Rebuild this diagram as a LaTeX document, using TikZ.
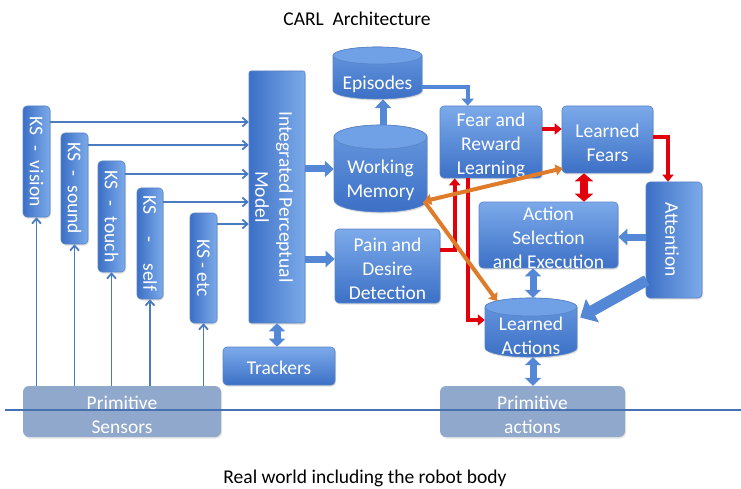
\documentclass[tikz,border=0pt]{standalone}
\usepackage{fontspec}
\setmainfont{Carlito}
\usetikzlibrary{arrows.meta,shadows,calc}
\definecolor{boxtop}{RGB}{124,170,234}
\definecolor{boxbot}{RGB}{60,112,198}
\definecolor{boxline}{RGB}{90,132,198}
\definecolor{fatblue}{RGB}{84,136,214}
\definecolor{thinblue}{RGB}{74,122,192}
\definecolor{carlred}{RGB}{226,0,10}
\definecolor{carlorange}{RGB}{222,124,44}
\definecolor{primfill}{RGB}{143,168,204}
\definecolor{cylend}{RGB}{112,160,230}
\definecolor{worldline}{RGB}{70,114,180}
\newcommand\drawcyl[6]{%
  \path[cbody] (#1,{#3+#6}) -- (#1,{#4-#6})
     arc[start angle=180,end angle=360,x radius=#5pt,y radius=#6pt]
     -- (#2,{#3+#6})
     arc[start angle=0,end angle=180,x radius=#5pt,y radius=#6pt] -- cycle;
  \path[ctop] ({(#1+#2)/2},{#3+#6}) ellipse[x radius=#5pt,y radius=#6pt];
}
\begin{document}
\begin{tikzpicture}[x=1pt,y=-1pt,
  cbox/.style={rounded corners=4pt, draw=boxline, line width=0.6pt,
     top color=boxtop, bottom color=boxbot, inner sep=0pt,
     drop shadow={opacity=0.25,shadow xshift=1pt,shadow yshift=-1.5pt}},
  vbox/.style={cbox, left color=boxbot, right color=boxtop},
  cbody/.style={draw=boxline, line width=0.6pt, top color=boxtop!70!boxbot, bottom color=boxbot,
     drop shadow={opacity=0.25,shadow xshift=1pt,shadow yshift=-1.5pt}},
  ctop/.style={draw=boxline, line width=0.6pt, fill=cylend},
  pbox/.style={rounded corners=6pt, fill=primfill, inner sep=0pt,
     drop shadow={opacity=0.2,shadow xshift=1pt,shadow yshift=-1.5pt}},
  txt/.style={text=white, align=center, inner sep=0pt, font=\fontsize{19.5}{24}\selectfont},
  blk/.style={text=black, align=center, inner sep=0pt, font=\fontsize{19.5}{24}\selectfont},
  kslink/.style={draw=thinblue, line width=1.8pt, -{Straight Barb[length=5pt,width=9pt]}},
  fatarr/.style={draw=fatblue, line width=7pt, -{Triangle[length=9pt,width=16pt]}},
  fatboth/.style={draw=fatblue, line width=7pt, {Triangle[length=8pt,width=16pt]}-{Triangle[length=8pt,width=16pt]}},
  redarr/.style={draw=carlred, line width=4pt, -{Triangle[length=7pt,width=11pt]}},
  redboth/.style={draw=carlred, line width=8pt, {Triangle[length=8pt,width=18pt]}-{Triangle[length=8pt,width=18pt]}},
  orarr/.style={draw=carlorange, line width=4pt, -{Triangle[length=7pt,width=11pt]}},
  orboth/.style={draw=carlorange, line width=4pt, {Triangle[length=7pt,width=11pt]}-{Triangle[length=7pt,width=11pt]}},
  eparr/.style={draw=fatblue, line width=4pt, -{Triangle[length=7pt,width=12pt]}}
]
\fill[white] (0,0) rectangle (741,489);
\useasboundingbox (0,0) rectangle (741,489);

% titles
\node[blk] (title) at (357,19) {CARL\hspace{0.45em}Architecture};
\node[blk] (world) at (365,478) {Real world including the robot body};

% primitive boxes
\node[pbox, minimum width=198pt, minimum height=51pt] (ps) at (122,411.5) {};
\node[pbox, minimum width=185pt, minimum height=51pt] (pa) at (532.5,411.5) {};
\draw[worldline, line width=2pt] (5,410) -- (741,410);
\node[txt] (ps-t) at (122,415) {Primitive\\Sensors};
\node[txt] (pa-t) at (532.5,415) {Primitive\\actions};

% KS boxes
\node[vbox, minimum width=27pt, minimum height=111pt] (ks1) at (36.5,161.5) {};
\node[vbox, minimum width=27pt, minimum height=111pt] (ks2) at (74.5,188.5) {};
\node[vbox, minimum width=27pt, minimum height=111pt] (ks3) at (111.5,216.5) {};
\node[vbox, minimum width=26pt, minimum height=111pt] (ks4) at (150,243.5) {};
\node[vbox, minimum width=27pt, minimum height=110pt] (ks5) at (203.5,268) {};
\node[txt, rotate=-90] (ks1-t) at (ks1) {KS\hspace{0.5em}-\hspace{0.5em}vision};
\node[txt, rotate=-90] (ks2-t) at (ks2) {KS\hspace{0.45em}-\hspace{0.45em}sound};
\node[txt, rotate=-90] (ks3-t) at (ks3) {KS\hspace{0.55em}-\hspace{0.55em}touch};
\node[txt, rotate=-90] (ks4-t) at (ks4) {KS\hspace{1.1em}-\hspace{1.1em}self};
\node[txt, rotate=-90] (ks5-t) at (ks5) {KS - etc};

% IPM and trackers
\node[vbox, rounded corners=2pt, minimum width=56pt, minimum height=252pt] (ipm) at (277,197) {};
\node[txt, rotate=-90] (ipm-t) at (274,197) {Integrated Perceptual\\Model};
\node[cbox, minimum width=112pt, minimum height=38pt] (trk) at (279,366) {};
\node[txt] (trk-t) at (279,368) {Trackers};

% cylinders
\drawcyl{333}{422}{47}{99}{44.5}{8.5}
\node[inner sep=0pt, minimum width=89pt, minimum height=52pt] (ep) at (377.5,73) {};
\node[txt] (ep-t) at (377.5,84) {Episodes};
\drawcyl{334}{427}{125}{212}{46.5}{12}
\node[inner sep=0pt, minimum width=93pt, minimum height=87pt] (wm) at (380.5,168.5) {};
\node[txt] (wm-t) at (380.5,180) {Working\\Memory};
\drawcyl{485}{577}{298}{357}{46}{9}
\node[inner sep=0pt, minimum width=92pt, minimum height=59pt] (la) at (531,327.5) {};
\node[txt] (la-t) at (531,336) {Learned\\Actions};

% other boxes
\node[cbox, minimum width=105pt, minimum height=74pt] (pain) at (387.5,266) {};
\node[txt] (pain-t) at (387.5,269) {Pain and\\Desire\\Detection};
\node[cbox, minimum width=102pt, minimum height=72pt] (fear) at (491,142) {};
\node[txt] (fear-t) at (491,145) {Fear and\\Reward\\Learning};
\node[cbox, minimum width=91pt, minimum height=67pt] (lf) at (607.5,139.5) {};
\node[txt] (lf-t) at (607.5,143) {Learned\\Fears};
\node[cbox, minimum width=139pt, minimum height=66pt] (as) at (548.5,235) {};
\node[txt] (as-t) at (548.5,238) {Action\\Selection\\and Execution};
\node[vbox, minimum width=56pt, minimum height=116pt] (att) at (674,240) {};
\node[txt, rotate=-90] (att-t) at (672,240) {Attention};

% KS links
\draw[kslink] (ks1.east |- 0,122) -- (ipm.west |- 0,122);
\draw[kslink] (ks2.east |- 0,145) -- (ipm.west |- 0,145);
\draw[kslink] (ks3.east |- 0,174) -- (ipm.west |- 0,174);
\draw[kslink] (ks4.east |- 0,202) -- (ipm.west |- 0,202);
\draw[kslink] (ks5.east |- 0,224) -- (ipm.west |- 0,224);
\foreach \k in {ks1,ks2,ks3,ks4,ks5}
  \draw[kslink] (\k.south |- ps.north) -- (\k.south);

% fat arrows
\draw[fatarr] (ipm.east |- 0,169) -- (wm.west |- 0,169);
\draw[fatarr] (ipm.east |- 0,259) -- (pain.west |- 0,259);
\draw[fatarr] (wm.north -| 383,0) -- (ep.south -| 383,0);
\draw[fatboth] (ipm.south) -- (ipm.south |- trk.north);
\draw[fatarr] (att.west |- 0,237) -- (as.east |- 0,237);
\draw[fatboth] (as.south -| 533,0) -- (la.north -| 533,0);
\draw[fatboth] (la.south -| 533,0) -- (pa.north -| 533,0);
\draw[draw=fatblue, line width=11pt, -{Triangle[length=14pt,width=26pt]}]
   ($(att.south west)+(1,-18)$) -- ($(la.east)+(3,-10)$);
\draw[eparr] (ep.east |- 0,87) -| ($(fear.north west)+(28,0)$);

% red arrows
\draw[redarr] (fear.east |- 0,129) -- (lf.west |- 0,129);
\draw[redarr] (lf.east |- 0,137) -| ($(att.north)+(-6,0)$);
\draw[redboth] (lf.south -| 584,0) -- (as.north -| 584,0);
\draw[redarr] (pain.east |- 0,250) -| ($(fear.south west)+(15,0)$);
\draw[redarr] ($(fear.south west)+(28,0)$) |- (la.west |- 0,320);

% orange arrows
\draw[orboth] ($(wm.south east)+(-3,-11)$) -- ($(lf.south west)+(1,-5)$);
\draw[orarr] ($(wm.south east)+(-3,-11)$) -- (497,301);
\end{tikzpicture}
\end{document}
